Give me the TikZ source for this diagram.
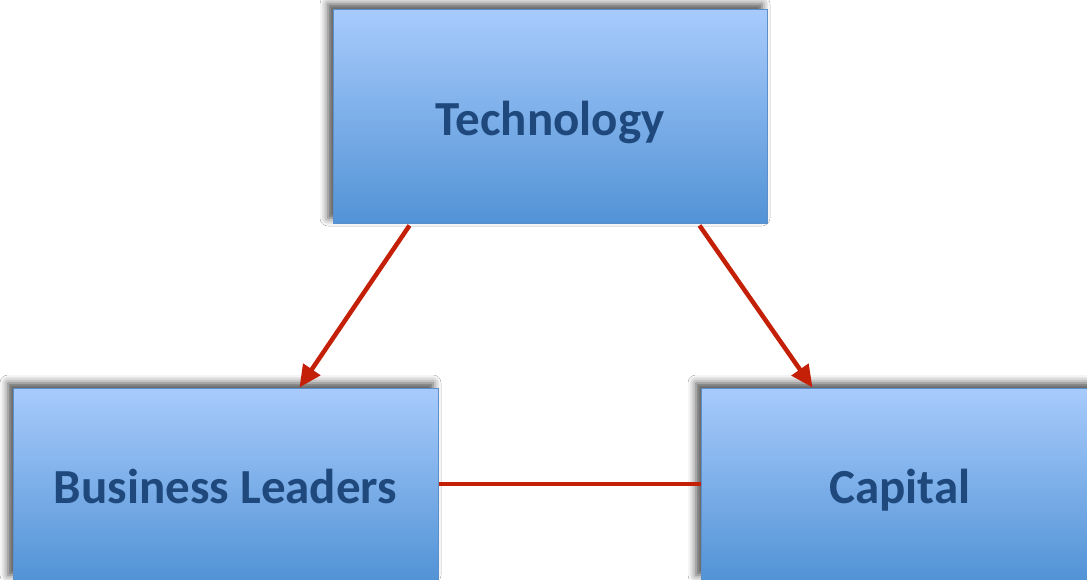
\documentclass[tikz,border=0pt]{standalone}
\usepackage{fontspec}
\setmainfont{Carlito}
\usetikzlibrary{arrows.meta,shadows.blur,calc}
\definecolor{boxtop}{HTML}{A8CBFC}
\definecolor{boxbot}{HTML}{5293D6}
\definecolor{boxedge}{HTML}{5B8FCC}
\definecolor{txt}{HTML}{1F497D}
\definecolor{redline}{HTML}{C42008}
\tikzset{
  box/.style={draw=boxedge, line width=1pt, top color=boxtop, bottom color=boxbot,
    text=txt, font=\fontsize{49}{55}\selectfont\bfseries, inner sep=0pt,
    text height=40pt, text depth=0.5pt,
    blur shadow={shadow xshift=-5pt, shadow yshift=5pt, shadow blur radius=8pt, shadow opacity=70}},
  conn/.style={draw=redline, line width=4.5pt},
  arr/.style={conn, -{Triangle[length=22pt,width=20pt]}}
}
\begin{document}
\begin{tikzpicture}[x=1pt,y=-1pt]
\useasboundingbox (0,0) rectangle (1087,579);
\clip (0,0) rectangle (1087,579);
\fill[white] (0,0) rectangle (1087,579);
\node[box, minimum width=434pt, minimum height=214pt] (tech) at (550,116) {Technology};
\node[box, minimum width=425pt, minimum height=192pt] (bl) at (225.5,484) {Business Leaders};
\node[box, minimum width=398pt, minimum height=192pt] (cap) at (900,484) {Capital};
\draw[arr] ([xshift=77pt,yshift=-2pt]tech.south west) -- ([xshift=287pt]bl.north west);
\draw[arr] ([xshift=367pt,yshift=-2pt]tech.south west) -- ([xshift=112pt]cap.north west);
\draw[conn] (bl.east) -- (cap.west);
\end{tikzpicture}
\end{document}
